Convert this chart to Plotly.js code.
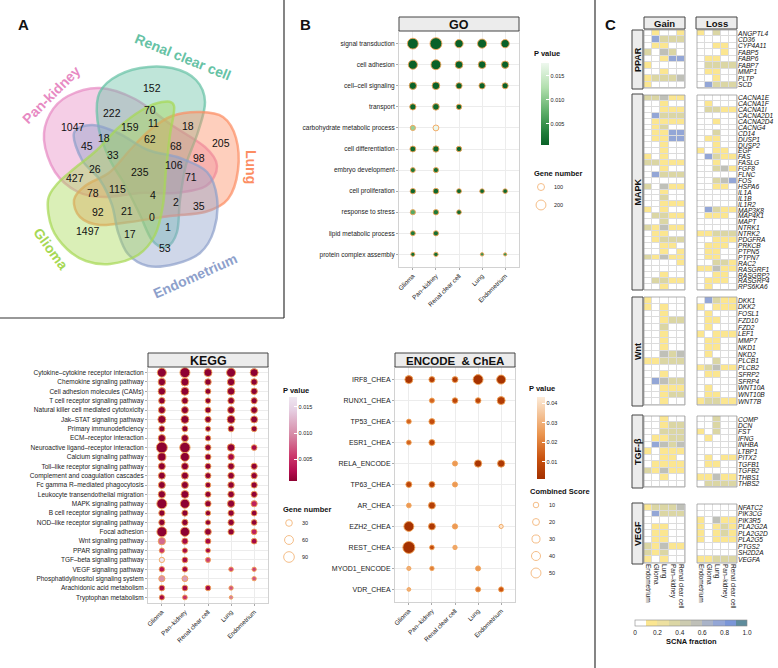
<!DOCTYPE html>
<html><head><meta charset="utf-8">
<script src="https://cdn.plot.ly/plotly-3.0.1.min.js"></script>
<style>body{margin:0;background:#fff}#plot{width:778px;height:668px}</style>
</head><body><div id="plot"></div>
<script>
const W=778,H=668;
const FONT='Liberation Sans, Arial, Helvetica, sans-serif';
// ================= DATA =================
// Panel A: Venn
const vennSets=["Pan-kidney","Renal clear cell","Lung","Endometrium","Glioma"];
const vennCounts=[1047,222,152,70,11,18,205,159,18,62,68,98,45,33,106,26,235,71,427,78,115,4,2,35,92,21,0,1,1497,17,53];
// Panel B shared categories
const tissues=["Glioma","Pan\u2013kidney","Renal clear cell","Lung","Endometrium"];
// GO
const goTerms=["signal transduction","cell adhesion","cell\u2013cell signaling","transport","carbohydrate metabolic process","cell differentiation","embryo development","cell proliferation","response to stress","lipid metabolic process","protein complex assembly"];
const goGenes=[[240,290,140,170,140],[170,200,120,120,110],[110,120,80,80,75],[80,90,60,null,null],[55,70,null,null,null],[70,80,60,null,null],[50,55,null,null,null],[60,65,50,45,45],[55,60,45,null,null],[50,55,null,null,null],[35,40,null,25,22]];
const goP=[[.0006,.0006,.0006,.0006,.0006],[.0006,.0006,.0006,.0006,.0006],[.0007,.0007,.0007,.0007,.0007],[.0012,.0012,.001,null,null],[.011,.0175,null,null,null],[.0012,.0012,.001,null,null],[.003,.002,null,null,null],[.0012,.0012,.0012,.0012,.0012],[.007,.003,.0015,null,null],[.003,.002,null,null,null],[.002,.002,null,.005,.005]];
const goLegendGenes=[100,200];
// KEGG
const keggTerms=["Cytokine\u2013cytokine receptor interaction","Chemokine signaling pathway","Cell adhesion molecules (CAMs)","T cell receptor signaling pathway","Natural killer cell mediated cytotoxicity","Jak\u2013STAT signaling pathway","Primary immunodeficiency","ECM\u2013receptor interaction","Neuroactive ligand\u2013receptor interaction","Calcium signaling pathway","Toll\u2013like receptor signaling pathway","Complement and coagulation cascades","Fc gamma R\u2013mediated phagocytosis","Leukocyte transendothelial migration","MAPK signaling pathway","B cell receptor signaling pathway","NOD\u2013like receptor signaling pathway","Focal adhesion","Wnt signaling pathway","PPAR signaling pathway","TGF\u2013beta signaling pathway","VEGF signaling pathway","Phosphatidylinositol signaling system","Arachidonic acid metabolism","Tryptophan metabolism"];
const keggGenes=[[62,78,47,62,47],[40,47,28,40,28],[40,47,20,40,28],[28,28,18,28,25],[34,34,23,34,30],[47,47,25,47,34],[23,23,15,23,20],[38,34,18,null,null],[96,85,23,40,20],[50,60,23,28,null],[34,34,22,28,25],[34,34,22,28,25],[34,34,18,28,25],[38,45,22,28,25],[80,65,25,38,25],[25,25,16,25,20],[25,25,15,25,20],[78,65,30,25,20],[38,25,20,null,20],[15,15,12,null,null],[16,20,14,null,null],[18,18,null,10,8],[25,22,null,null,8],[20,20,18,8,null],[15,12,null,3,null]];
const keggP=[[.0008,.0008,.0008,.0008,.0008],[.0008,.0008,.0008,.0008,.0008],[.0008,.0008,.0008,.0008,.0008],[.0008,.0008,.0008,.0008,.0008],[.0008,.0008,.0008,.0008,.0008],[.0008,.0008,.0008,.0008,.0008],[.0008,.0008,.0008,.0008,.0008],[.0008,.0008,.001,null,null],[.0008,.0008,.001,.001,.002],[.0008,.0008,.001,.002,null],[.0008,.0008,.001,.001,.001],[.0008,.0008,.001,.001,.001],[.0008,.0008,.001,.001,.001],[.0008,.0008,.001,.001,.001],[.0008,.0008,.001,.001,.004],[.0008,.0008,.001,.001,.001],[.0008,.0008,.001,.001,.001],[.0008,.0008,.001,.001,.004],[.008,.002,.002,null,.002],[.005,.002,.002,null,null],[.0168,.002,.006,null,null],[.003,.002,null,.006,.006],[.010,.011,null,null,.007],[.002,.002,.002,.007,null],[.002,.005,null,.009,null]];
const keggLegendGenes=[30,60,90];
// ENCODE & ChEA
const tfTerms=["IRF8_CHEA","RUNX1_CHEA","TP53_CHEA","ESR1_CHEA","RELA_ENCODE","TP63_CHEA","AR_CHEA","EZH2_CHEA","REST_CHEA","MYOD1_ENCODE","VDR_CHEA"];
const tfScore=[[29,13,13,50,40],[null,7,11,11,29],[6,13,null,null,null],[6,13,null,null,null],[null,null,7,23,23],[13,13,7,null,null],[5,20,null,null,null],[50,20,8,null,2],[77,5,3,null,null],[2,3,null,7,null],[0,null,null,7,7]];
const tfP=[[.003,.005,.005,.002,.002],[null,.015,.008,.008,.005],[.015,.01,null,null,null],[.015,.008,null,null,null],[null,null,.025,.003,.004],[.008,.006,.025,null,null],[.025,.006,null,null,null],[.002,.004,.025,null,.042],[.0015,.01,.028,null,null],[.03,.02,null,.025,null],[.03,null,null,.018,.012]];
const tfLegendScores=[10,20,30,40,50];
// Panel C: SCNA heatmap
const heatCols=["Endometrium","Glioma","Lung","Pan\u2013kidney","Renal clear cell"];
const scnaTicks=[0,0.2,0.4,0.6,0.8,1.0];
const pparGenes=["ANGPTL4","CD36","CYP4A11","FABP5","FABP6","FABP7","MMP1","PLTP","SCD"];
const pparGain=[[0,.15,0,0,.15],[0,.75,.35,.35,.35],[0,.15,.15,0,0],[.35,0,.55,.35,0],[0,0,.15,.75,.75],[.15,0,0,0,0],[0,0,.15,0,0],[.15,.35,.35,.35,.55],[.15,0,0,0,0]];
const pparLoss=[[.15,0,.35,0,0],[0,0,0,0,0],[0,0,.15,.15,0],[0,0,0,.15,0],[0,.15,.15,0,0],[0,.35,.35,.35,.35],[0,.15,.15,0,0],[0,0,.15,0,0],[0,.75,.35,.35,.35]];
const mapkGenes=["CACNA1E","CACNA1F","CACNA1I","CACNA2D1","CACNA2D4","CACNG4","CD14","DUSP1","DUSP2","EGF","FAS","FASLG","FGF8","FLNC","FOS","HSPA6","IL1A","IL1B","IL1R2","MAP3K8","MAP4K1","MAPT","NTRK1","NTRK2","PDGFRA","PRKCB","PTPN5","PTPN7","RAC2","RASGRF1","RASGRP2","RASGRP4","RPS6KA6"];
const mapkGain=[[.35,.35,.55,.15,.15],[0,0,.15,0,0],[0,0,.15,.15,.15],[0,.75,.35,.35,.35],[0,.15,.15,.15,.15],[0,.15,.35,0,0],[0,.15,.15,.75,.75],[0,.15,.15,.75,.75],[0,0,.15,0,0],[0,0,.15,0,0],[.15,0,.15,0,0],[.35,.35,.15,.15,.15],[0,0,.15,0,0],[0,.75,.35,.35,.35],[0,0,0,0,0],[.35,0,.55,.15,.15],[0,0,.15,0,0],[0,0,.35,0,0],[0,0,.15,.15,.15],[.15,0,.15,0,0],[0,.35,.35,.15,.15],[0,0,.35,0,0],[.35,.15,.55,.15,.15],[0,.15,.15,0,0],[0,.15,.35,.35,.35],[0,0,.15,.15,0],[0,0,.15,0,.15],[.35,.15,.55,.15,.15],[0,0,0,0,.15],[0,0,0,0,0],[0,0,.15,0,0],[0,.35,.35,.15,.15],[0,0,.15,0,0]];
const mapkLoss=[[0,0,0,0,0],[0,.15,0,0,0],[0,.35,.35,.15,.15],[0,0,0,0,0],[0,0,.15,0,0],[0,0,0,0,0],[0,0,.35,0,0],[0,.15,.15,0,0],[0,0,.15,0,0],[.15,0,.15,.15,0],[0,.75,.35,.15,.15],[0,0,.15,0,0],[0,0,.35,.55,.15],[0,0,0,0,0],[0,0,.35,.55,.75],[0,0,.15,.15,0],[0,0,0,0,0],[0,0,0,0,0],[0,0,0,0,0],[0,.75,.35,.15,.15],[0,.15,.15,.15,0],[0,0,0,0,0],[0,0,0,0,0],[.15,.15,.35,.35,.35],[0,0,.15,.15,.15],[0,.15,.15,.15,0],[0,.15,.15,0,0],[0,.15,.15,0,0],[0,0,.35,.35,.15],[.15,.15,.55,.15,.15],[0,0,.15,.15,0],[0,.15,.15,.15,0],[0,.15,0,0,0]];
const wntGenes=["DKK1","DKK2","FOSL1","FZD10","FZD2","LEF1","MMP7","NKD1","NKD2","PLCB1","PLCB2","SFRP2","SFRP4","WNT10A","WNT10B","WNT7B"];
const wntGain=[[.15,0,0,0,0],[.15,0,.15,0,0],[0,0,.15,0,0],[0,0,.15,.35,.35],[0,0,.35,0,0],[0,0,.15,0,0],[0,0,.15,0,0],[0,0,.15,0,0],[0,0,.55,.35,.55],[.15,.15,.35,.35,.35],[0,0,0,0,0],[0,0,.15,0,0],[0,.75,.55,.35,.35],[0,0,.15,.15,.15],[0,0,.15,.35,.35],[0,0,.15,0,0]];
const wntLoss=[[0,.75,.35,.15,.15],[.15,0,.15,.15,.15],[0,.15,0,0,0],[0,.15,.15,0,0],[0,.15,0,0,0],[.15,0,.15,.15,.15],[0,.15,.15,0,0],[0,.15,.15,0,0],[0,.15,0,0,0],[0,0,.35,0,0],[.15,.35,.55,.15,.15],[0,.15,.15,0,0],[0,0,0,0,0],[0,.15,0,0,0],[0,.15,.15,0,0],[.15,.35,.35,.15,.15]];
const tgfGenes=["COMP","DCN","FST","IFNG","INHBA","LTBP1","PITX2","TGFB1","TGFB2","THBS1","THBS2"];
const tgfGain=[[0,0,.15,0,0],[0,0,.15,.35,.35],[0,0,.35,.35,.35],[0,.15,.15,.35,.35],[0,.75,.55,.35,.55],[.15,0,.15,.15,.15],[0,0,.15,.15,0],[0,.15,.15,.15,.15],[.35,.15,.55,.15,.15],[0,0,.15,0,0],[0,0,0,0,0]];
const tgfLoss=[[0,0,.35,0,0],[0,0,.35,0,0],[.15,0,.35,0,0],[0,.15,0,0,0],[0,0,0,0,0],[0,0,0,0,0],[0,.15,0,.15,.15],[0,.15,.15,0,0],[0,0,0,0,0],[.15,.15,.55,.15,.15],[0,.35,.35,.35,.35]];
const vegfGenes=["NFATC2","PIK3CG","PIK3R5","PLA2G2A","PLA2G2D","PLA2G5","PTGS2","SH2D2A","VEGFA"];
const vegfGain=[[.15,.35,.35,.35,.55],[0,.75,.35,.35,.35],[0,0,0,0,0],[0,.15,.15,0,0],[0,.15,.15,0,0],[0,.15,.15,0,0],[.35,.15,.55,.15,.15],[.35,.15,.35,0,0],[.15,0,.15,0,0]];
const vegfLoss=[[0,0,0,0,0],[0,0,0,0,0],[.15,0,.55,.15,.15],[.15,0,.15,.35,.15],[.15,0,.15,.35,.15],[.15,0,.15,.15,.15],[0,0,0,0,0],[0,0,0,0,0],[.15,.15,.35,.35,.35]];

// ================= LAYOUT / STYLE =================
const py=y=>1-y/H;
const data=[], shapes=[], annotations=[];
const layout={width:W,height:H,margin:{l:0,r:0,t:0,b:0},paper_bgcolor:'#ffffff',plot_bgcolor:'rgba(0,0,0,0)',showlegend:false,hovermode:false,font:{family:FONT,color:'#222'},
  xaxis:{domain:[0,1],range:[0,W],visible:false,fixedrange:true},
  yaxis:{domain:[0,1],range:[H,0],visible:false,fixedrange:true}};
function ann(x,y,text,o){annotations.push(Object.assign({xref:'x',yref:'y',x:x,y:y,text:text,showarrow:false,xanchor:'center',yanchor:'middle',font:{family:FONT,size:10,color:'#111'}},o||{}));}
function rect(x0,y0,x1,y1,fill,line,lw){shapes.push({type:'rect',xref:'x',yref:'y',x0,y0,x1,y1,fillcolor:fill,line:{color:line,width:lw},layer:'above'});}
function line(x0,y0,x1,y1,c,w){shapes.push({type:'line',xref:'x',yref:'y',x0,y0,x1,y1,line:{color:c,width:w},layer:'above'});}

// panel frames
line(0,318,284,318,'#333',1.2); line(284,0,284,318,'#333',1.2); line(595,0,595,H,'#333',1.2);
ann(23,24,'<b>A</b>',{font:{family:FONT,size:15,color:'#111'}});
ann(305,24,'<b>B</b>',{font:{family:FONT,size:15,color:'#111'}});
ann(610,24,'<b>C</b>',{font:{family:FONT,size:15,color:'#111'}});

// ---------- Venn ----------
function smoothPath(pts){const n=pts.length;let d='M'+pts[0][0]+','+pts[0][1];
  for(let i=0;i<n;i++){const p0=pts[(i-1+n)%n],p1=pts[i],p2=pts[(i+1)%n],p3=pts[(i+2)%n];
    const c1=[p1[0]+(p2[0]-p0[0])/6,p1[1]+(p2[1]-p0[1])/6],c2=[p2[0]-(p3[0]-p1[0])/6,p2[1]-(p3[1]-p1[1])/6];
    d+=' C'+c1[0].toFixed(1)+','+c1[1].toFixed(1)+' '+c2[0].toFixed(1)+','+c2[1].toFixed(1)+' '+p2[0]+','+p2[1];}
  return d+' Z';}
const vennOutlines=[
 [[100,88],[135,99],[170,124],[205,147],[217,166],[206,186],[175,193],[140,193],[105,197],[78,192],[55,172],[44,140],[50,114],[68,96]],
 [[98,97],[112,79],[140,68],[172,68],[196,80],[205,102],[198,132],[186,165],[180,200],[177,232],[166,247],[152,240],[140,215],[125,185],[110,160],[99,130]],
 [[200,112],[223,117],[236,138],[238,170],[228,199],[205,212],[170,216],[130,222],[100,225],[80,217],[74,200],[85,186],[110,172],[130,150],[150,130],[172,116]],
 [[74,133],[92,125],[118,133],[148,150],[180,158],[207,172],[217,198],[214,230],[200,253],[175,264],[148,266],[128,254],[118,232],[112,205],[100,180],[82,160]],
 [[48,200],[58,183],[75,168],[97,150],[118,128],[142,110],[162,102],[174,106],[170,135],[166,170],[163,205],[155,235],[138,255],[110,264],[86,261],[67,249],[52,228]]];
const vennRGB=['231,138,195','102,194,165','252,141,98','141,160,203','166,216,84'];
vennOutlines.forEach((pts,i)=>shapes.push({type:'path',xref:'x',yref:'y',path:smoothPath(pts),fillcolor:'rgba('+vennRGB[i]+',0.42)',line:{color:'rgba('+vennRGB[i]+',0.7)',width:2.5},layer:'below'}));
const vennLabelPos=[[51,95,-45],[183,57,22],[251,167,90],[195,276,-24],[51,249,54]];
vennSets.forEach((s,i)=>{const p=vennLabelPos[i];ann(p[0],p[1],'<b>'+s+'</b>',{textangle:p[2],font:{family:FONT,size:14,color:'rgb('+vennRGB[i]+')'}});});
const vennPos=[[73,127],[112,113],[152,88],[150,110],[153,123],[188,126],[221,143],[130,127],[104,138],[150,139],[176,146],[199,158],[87,146],[113,155],[174,165],[95,169],[140,172],[191,177],[75,178],[93,193],[117,189],[153,195],[176,202],[199,206],[98,212],[127,211],[152,217],[168,227],[88,231],[130,234],[165,248]];
vennCounts.forEach((c,i)=>ann(vennPos[i][0],vennPos[i][1],String(c),{font:{family:FONT,size:10.5,color:'#111'}}));

// ---------- dot plots ----------
const goSize=n=>0.7*Math.sqrt(n);
const keggSize=n=>Math.sqrt(10+1.15*n);
const tfSize=s=>Math.sqrt(14+1.7*s);
function dotAxes(id,x0,x1,y0,y1,terms,fs){
  layout['xaxis'+id]={domain:[x0/W,x1/W],anchor:'y'+id,type:'category',categoryorder:'array',categoryarray:tissues,tickmode:'array',tickvals:tissues,ticktext:tissues,range:[-0.6,4.6],autorange:false,tickangle:-45,tickfont:{size:6.3,family:FONT,color:'#222'},showgrid:true,gridcolor:'#ececec',gridwidth:1,showline:true,mirror:true,linecolor:'#d2d2d2',linewidth:1,ticks:'outside',ticklen:2,tickcolor:'#aaa',zeroline:false,fixedrange:true};
  layout['yaxis'+id]={domain:[1-y1/H,1-y0/H],anchor:'x'+id,type:'category',categoryorder:'array',categoryarray:terms,tickmode:'array',tickvals:terms,ticktext:terms,range:[terms.length-0.4,-0.6],autorange:false,tickfont:{size:fs,family:FONT,color:'#222'},showgrid:true,gridcolor:'#ececec',gridwidth:1,showline:true,mirror:true,linecolor:'#d2d2d2',linewidth:1,ticks:'outside',ticklen:2,tickcolor:'#aaa',zeroline:false,fixedrange:true};
}
function dotTrace(id,terms,sizes,pv,fn,cs,cmin,cmax,cb){
  const x=[],y=[],s=[],c=[];
  terms.forEach((t,i)=>tissues.forEach((ts,j)=>{if(sizes[i][j]!=null){x.push(ts);y.push(t);s.push(fn(sizes[i][j]));c.push(pv[i][j]);}}));
  data.push({type:'scatter',mode:'markers',x,y,xaxis:'x'+id,yaxis:'y'+id,hoverinfo:'skip',
    marker:{size:s,color:c,colorscale:cs,cmin,cmax,opacity:1,line:{color:'#f2a458',width:0.9},showscale:true,
      colorbar:Object.assign({xanchor:'left',yanchor:'middle',lenmode:'pixels',thickness:8,outlinewidth:0,ticks:'inside',ticklen:3,tickwidth:1,tickcolor:'#ffffff',tickfont:{size:5.5,family:FONT,color:'#222'},xpad:0,ypad:0},cb)}});
}
function strip(x0,y0,x1,y1,text,fs){rect(x0,y0,x1,y1,'#ececec','#444',1);ann((x0+x1)/2,(y0+y1)/2+0.5,'<b>'+text+'</b>',{font:{family:FONT,size:fs,color:'#111'}});}
function sizeLegend(title,tx,ty,cx,ys,vals,fn,lx){
  ann(tx,ty,'<b>'+title+'</b>',{xanchor:'left',font:{family:FONT,size:7.5,color:'#111'}});
  data.push({type:'scatter',mode:'markers',x:ys.map(()=>cx),y:ys,xaxis:'x',yaxis:'y',hoverinfo:'skip',marker:{size:vals.map(fn),color:'#ffffff',line:{color:'#f2a458',width:1}}});
  vals.forEach((v,i)=>ann(lx,ys[i],String(v),{xanchor:'left',font:{family:FONT,size:5.5,color:'#222'}}));
}
// GO
dotAxes(2,399,519,31,267,goTerms,6.5);
dotTrace(2,goTerms,goGenes,goP,goSize,[[0,'#0a6128'],[0.15,'#1f7d3a'],[0.4,'#5cae68'],[0.7,'#b2dfae'],[1,'#eef8ee']],0.0006,0.0177,
  {x:541/W,y:py(104),len:82,tickvals:[0.005,0.01,0.015],ticktext:['0.005','0.010','0.015']});
strip(399,17,519,31,'GO',12.5);
ann(532,53,'<b>P value</b>',{xanchor:'left',font:{family:FONT,size:7.5,color:'#111'}});
sizeLegend('Gene number',532,173,541,[187,205],goLegendGenes,goSize,552);
// KEGG
dotAxes(3,148,268,367,603,keggTerms,6.5);
dotTrace(3,keggTerms,keggGenes,keggP,keggSize,[[0,'#8e0232'],[0.12,'#b50f50'],[0.3,'#cc3a6c'],[0.55,'#d68aa6'],[0.85,'#e6d0e3'],[1,'#efe7f1']],0.0008,0.0169,
  {x:289/W,y:py(439),len:84,tickvals:[0.005,0.01,0.015],ticktext:['0.005','0.010','0.015']});
strip(148,353,268,367,'KEGG',12.5);
ann(281,390,'<b>P value</b>',{xanchor:'left',font:{family:FONT,size:7.5,color:'#111'}});
sizeLegend('Gene number',281,509,289,[523,540,557],keggLegendGenes,keggSize,300);
// ENCODE & ChEA
dotAxes(4,395,515,367,602,tfTerms,7);
dotTrace(4,tfTerms,tfScore,tfP,tfSize,[[0,'#a33000'],[0.25,'#c9520f'],[0.55,'#eb9650'],[1,'#fcebd8']],0.0012,0.0433,
  {x:537/W,y:py(438),len:82,tickvals:[0.01,0.02,0.03,0.04],ticktext:['0.01','0.02','0.03','0.04']});
strip(395,353,515,367,'ENCODE\u00a0 & ChEA',11.5);
ann(527,388,'<b>P value</b>',{xanchor:'left',font:{family:FONT,size:7.5,color:'#111'}});
sizeLegend('Combined Score',528,491,536,[505,522,539,556,573],tfLegendScores,tfSize,547);

// ---------- Panel C heatmap ----------
const scnaScale=(()=>{const c=['#ffffff','#fbe691','#ede0a0','#dbd6a4','#cccbb0','#bfc0b8','#a9b3c8','#93a6d6','#7a96d8','#5e8c9c'];const s=[];c.forEach((col,i)=>{s.push([i/10,col]);s.push([(i+1)/10,col]);});return s;})();
const groups=[
 {name:'PPAR',genes:pparGenes,gain:pparGain,loss:pparLoss,top:30,bot:88,st:30,sb:89},
 {name:'MAPK',genes:mapkGenes,gain:mapkGain,loss:mapkLoss,top:95,bot:290,st:94,sb:290},
 {name:'Wnt',genes:wntGenes,gain:wntGain,loss:wntLoss,top:297,bot:405,st:297,sb:406},
 {name:'TGF-\u03b2',genes:tgfGenes,gain:tgfGain,loss:tgfLoss,top:416,bot:487,st:415,sb:488},
 {name:'VEGF',genes:vegfGenes,gain:vegfGain,loss:vegfLoss,top:504,bot:563,st:503,sb:564}];
const gx=[644,685], lx=[697,737];
['5','6'].forEach((id,k)=>{const d=k?lx:gx;
  layout['xaxis'+id]={domain:[d[0]/W,d[1]/W],anchor:'y11',type:'category',categoryorder:'array',categoryarray:heatCols,tickmode:'array',tickvals:heatCols,ticktext:heatCols,range:[-0.5,4.5],autorange:false,tickangle:90,tickfont:{size:6.5,family:FONT,color:'#222'},showgrid:false,zeroline:false,showline:false,ticks:'',fixedrange:true};});
groups.forEach((g,k)=>{const yid=7+k;
  layout['yaxis'+yid]={domain:[1-g.bot/H,1-g.top/H],anchor:'x6',side:'right',type:'category',categoryorder:'array',categoryarray:g.genes,tickmode:'array',tickvals:g.genes,ticktext:g.genes,range:[g.genes.length-0.5,-0.5],autorange:false,tickfont:{size:6.6,family:FONT,style:'italic',color:'#111'},ticks:'',showgrid:false,zeroline:false,showline:false,fixedrange:true};
  [['5',g.gain],['6',g.loss]].forEach(([xid,z])=>{
    const last=(k===groups.length-1&&xid==='6');
    data.push({type:'heatmap',x:heatCols,y:g.genes,z:z,xaxis:'x'+xid,yaxis:'y'+yid,zmin:0,zmax:1,colorscale:scnaScale,xgap:1,ygap:1,hoverinfo:'skip',showscale:last,
      colorbar:{orientation:'h',x:691/W,xanchor:'center',y:py(620),yanchor:'top',len:112,lenmode:'pixels',thickness:6,outlinewidth:0.6,outlinecolor:'#888',tickvals:scnaTicks,ticktext:['0','0.2','0.4','0.6','0.8','1.0'],ticks:'',tickfont:{size:6.5,family:FONT,color:'#222'},xpad:0,ypad:0}});
    shapes.push({type:'rect',xref:'x'+xid+' domain',yref:'y'+yid+' domain',x0:0,x1:1,y0:0,y1:1,fillcolor:'#dcdcdc',line:{width:0},layer:'below'});
    shapes.push({type:'rect',xref:'x'+xid+' domain',yref:'y'+yid+' domain',x0:0,x1:1,y0:0,y1:1,fillcolor:'rgba(0,0,0,0)',line:{color:'#9c9c9c',width:0.8},layer:'above'});
  });
  rect(632,g.st,643,g.sb,'#ececec','#444',1);
  ann(637.5,(g.st+g.sb)/2,'<b>'+g.name+'</b>',{textangle:-90,font:{family:FONT,size:9,color:'#111'}});
});
strip(644,17,685,29,'Gain',9.5);
strip(696,17,737,29,'Loss',9.5);
ann(691,641,'<b>SCNA fraction</b>',{font:{family:FONT,size:7.5,color:'#111'}});

layout.shapes=shapes; layout.annotations=annotations;
Plotly.newPlot('plot',data,layout,{displayModeBar:false,staticPlot:true});
</script></body></html>
